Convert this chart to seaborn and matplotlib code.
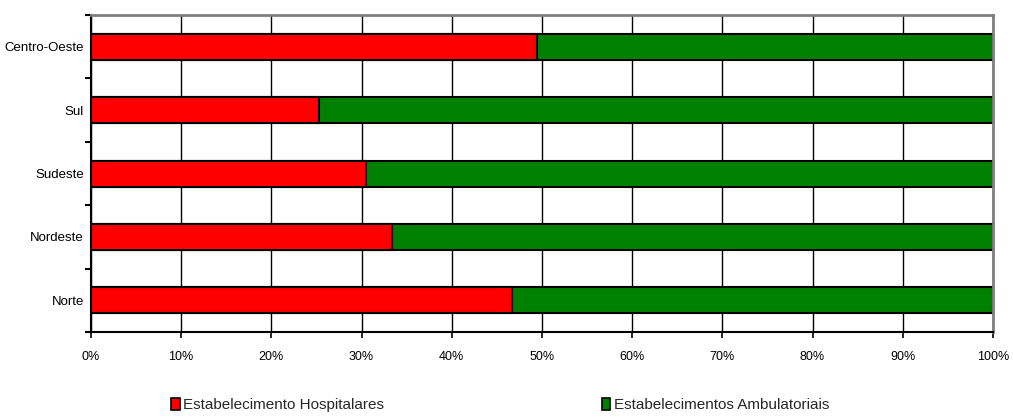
import numpy as np
import pandas as pd
import matplotlib as mpl
mpl.use('Agg')
import matplotlib.pyplot as plt
import seaborn as sns
from matplotlib.patches import Patch
from matplotlib.ticker import FixedLocator, PercentFormatter

# data (percent of establishments per region)
regioes = ['Centro-Oeste', 'Sul', 'Sudeste', 'Nordeste', 'Norte']
hospitalares = [49.4, 25.3, 30.5, 33.4, 46.7]
ambulatoriais = [50.6, 74.7, 69.5, 66.6, 53.3]
series_labels = ['Estabelecimento Hospitalares', 'Estabelecimentos Ambulatoriais']
xticks = list(range(0, 101, 10))

sns.set_theme(style='white')
plt.rcParams['font.family'] = ['Liberation Sans Narrow', 'Liberation Sans', 'DejaVu Sans']

df = pd.DataFrame({'regiao': regioes,
                   'hosp': hospitalares,
                   'amb': ambulatoriais})
df['total'] = df['hosp'] + df['amb']

fig = plt.figure(figsize=(10.13, 4.19), dpi=100)
ax = fig.add_axes([0.0898, 0.2076, 0.8904, 0.7566])

# vertical grid behind the bars
for v in xticks:
    ax.axvline(v, color='black', lw=1.0, zorder=0)

bar_w = 0.41
sns.barplot(data=df, y='regiao', x='total', order=regioes, orient='h',
            color='#008000', saturation=1, width=bar_w,
            edgecolor='black', linewidth=1.5, ax=ax, zorder=2)
sns.barplot(data=df, y='regiao', x='hosp', order=regioes, orient='h',
            color='#ff0000', saturation=1, width=bar_w,
            edgecolor='black', linewidth=1.5, ax=ax, zorder=3)

ax.set_xlim(0, 100)
ax.set_ylim(len(regioes) - 0.5, -0.5)
ax.set_xlabel('')
ax.set_ylabel('')
ax.xaxis.set_major_locator(FixedLocator(xticks))
ax.xaxis.set_major_formatter(PercentFormatter(decimals=0))
ax.yaxis.set_minor_locator(FixedLocator(np.arange(-0.5, len(regioes), 1.0)))
ax.tick_params(axis='y', which='major', length=0, pad=5, labelsize=9.5, colors='black')
ax.tick_params(axis='y', which='minor', left=True, length=4, width=1.5, color='black', direction='out')
ax.tick_params(axis='x', which='major', bottom=True, length=4, width=1.2, color='black',
               direction='out', pad=10, labelsize=9, labelcolor='black')

for side in ['left', 'bottom']:
    ax.spines[side].set_color('black')
    ax.spines[side].set_linewidth(1.5)
for side in ['top', 'right']:
    ax.spines[side].set_color('#808080')
    ax.spines[side].set_linewidth(2)
    ax.spines[side].set_visible(True)
for s in ax.spines.values():
    s.set_zorder(4)

handles = [Patch(facecolor='#ff0000', edgecolor='black', lw=1.2),
           Patch(facecolor='#008000', edgecolor='black', lw=1.2)]
fig.legend(handles, series_labels, loc='center', bbox_to_anchor=(0.4936, 0.033),
           ncol=2, frameon=False, fontsize=11, handlelength=0.55, handleheight=0.85,
           handletextpad=0.2, columnspacing=14.3, borderpad=0, borderaxespad=0)

fig.savefig('out.png', dpi=100)
